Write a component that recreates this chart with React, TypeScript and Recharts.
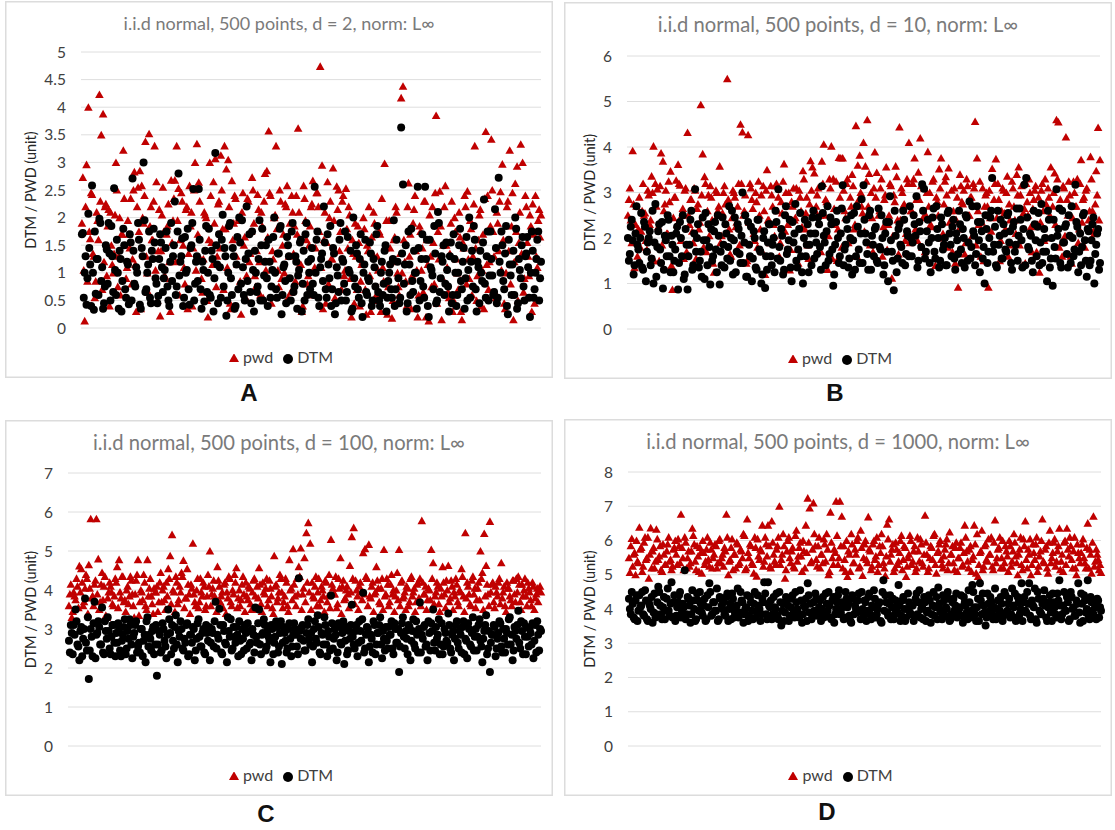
import { CartesianGrid, Legend, Scatter, ScatterChart, XAxis, YAxis } from "recharts";

// values, left to right, one entry per 2 point indexes
const pwdA = [
  2.73,0.13,2.96,4.0,1.62,2.42,1.3,0.85,1.95,4.23,3.5,3.88,2.2,0.95,2.15,2.1,1.15,1.35,3.0,0.75,2.0,1.7,3.22,1.5,1.1,
  1.7,2.35,1.25,2.83,0.3,2.55,2.85,2.58,1.9,3.38,1.0,3.52,2.2,1.6,3.3,2.65,1.4,0.22,2.05,1.75,0.9,1.85,1.2,2.68,1.95,
  2.68,3.3,2.53,1.6,2.3,1.1,2.15,0.35,2.58,2.1,1.45,3.0,3.34,2.64,1.25,0.65,2.1,2.0,0.2,3.0,1.55,2.65,3.07,1.3,2.3,
  3.13,1.8,3.3,2.88,3.05,0.45,2.67,1.9,2.35,1.15,2.0,0.25,2.45,1.65,0.95,2.3,1.35,2.73,1.9,0.75,2.42,1.2,2.1,0.55,2.8,
  2.85,3.57,2.4,1.4,2.0,3.3,1.05,2.5,0.9,1.7,2.25,2.58,1.3,0.65,2.1,1.85,2.4,3.62,1.15,0.3,2.58,1.95,0.8,1.5,2.2,
  2.67,1.1,2.45,2.2,4.74,2.95,1.6,0.45,2.65,2.0,1.25,2.9,0.55,2.57,2.5,1.75,2.3,0.95,2.53,1.45,2.05,0.2,1.35,1.9,0.7,
  1.55,0.85,1.2,1.8,0.25,1.4,0.95,1.65,2.1,0.5,1.3,1.75,0.3,1.1,2.98,1.95,0.75,1.45,0.18,1.6,2.2,1.0,0.6,4.17,4.38,
  1.2,0.4,2.63,1.7,0.95,2.15,1.4,0.2,1.85,1.05,0.65,2.3,1.6,0.13,1.3,2.2,0.8,3.85,1.75,2.48,0.15,1.5,2.58,1.1,0.55,
  1.9,0.3,2.0,1.25,0.7,1.65,0.15,1.45,2.2,2.48,0.9,1.8,1.3,3.3,0.5,1.6,2.15,1.05,0.35,3.56,2.4,1.2,3.42,1.75,0.65,
  2.1,1.4,2.47,2.97,0.45,1.0,2.3,3.22,1.85,0.15,2.62,2.93,1.55,3.33,3.0,0.9,2.2,1.3,2.05,0.3,1.7,2.4,1.1,2.15,2.05,
];
// the denser body of each cloud, sitting on the odd indexes
const pwdA2 = [
  1.9,1.05,2.2,0.85,1.75,2.45,1.35,0.55,2.1,1.6,2.3,0.7,1.2,2.25,1.85,0.4,1.5,1.0,2.05,2.5,1.3,0.6,1.7,2.35,0.9,
  1.95,1.45,0.8,2.5,1.15,2.2,1.75,0.35,2.0,2.4,1.3,0.65,1.85,1.6,2.3,1.05,0.5,2.15,1.4,2.55,0.95,1.7,2.25,0.3,1.55,
  2.35,1.2,1.95,0.6,2.45,1.5,0.8,2.2,1.35,1.85,0.4,2.5,1.05,1.7,2.3,0.9,1.25,2.05,0.5,1.6,2.4,1.15,1.9,0.75,2.25,
  1.45,2.5,0.7,1.8,1.1,2.2,0.35,1.6,2.4,1.3,1.95,0.85,2.1,1.5,0.55,2.35,1.2,1.75,2.5,0.95,1.4,2.15,0.6,1.85,2.3,
  1.05,1.65,2.45,0.45,1.25,2.05,1.8,0.75,2.3,1.5,1.0,2.2,0.55,1.9,2.4,1.35,0.85,1.7,2.1,1.15,0.4,2.35,1.6,0.95,1.85,
  2.25,0.6,1.45,2.45,1.75,1.1,0.35,2.1,1.55,0.8,2.3,1.25,1.95,0.5,2.15,1.4,0.7,2.4,1.05,1.8,2.2,0.9,1.6,0.45,1.3,
  1.85,0.4,1.15,2.0,0.7,1.5,2.2,0.3,1.35,1.9,0.6,1.05,1.7,2.35,0.85,1.45,0.25,1.95,1.2,0.5,1.65,2.1,0.75,1.35,1.0,
  1.6,0.85,2.2,1.3,0.35,1.9,2.4,1.05,0.6,1.75,1.45,2.3,0.2,1.15,2.05,0.75,1.55,2.45,0.45,1.25,1.85,0.9,2.2,1.5,0.65,
  1.35,2.3,0.5,1.75,1.0,2.1,0.3,1.55,2.4,0.8,1.25,1.95,0.6,2.25,1.45,0.95,2.05,0.4,1.7,2.35,1.15,0.7,1.85,2.5,1.3,
  0.55,1.9,2.3,1.05,1.6,0.35,2.2,1.4,0.8,2.45,1.2,1.75,0.5,2.1,1.35,0.65,2.4,1.55,0.95,1.85,2.25,0.45,1.3,1.95,1.65,
];
const dtmA = [
  1.72,1.0,0.42,2.07,1.15,2.58,0.33,0.62,1.25,1.98,0.85,0.35,0.75,1.42,1.9,0.5,1.3,2.53,0.6,1.0,1.4,0.3,1.8,0.7,1.2,
  0.43,1.55,2.71,0.8,1.1,1.9,0.42,1.45,3.0,0.65,1.0,1.75,0.45,1.25,1.55,0.8,0.58,1.7,1.1,0.9,1.45,0.75,0.4,1.9,1.3,
  2.29,0.75,2.8,1.2,1.62,0.55,1.0,1.8,0.42,1.5,2.52,0.8,1.3,2.52,0.7,1.2,0.48,1.85,1.0,0.6,1.4,0.3,3.17,1.15,1.7,
  0.55,2.05,1.45,0.22,1.0,1.9,0.6,1.3,0.4,1.65,2.0,0.8,1.1,0.5,2.2,1.35,0.65,1.75,0.3,1.0,0.75,1.95,1.5,0.5,1.2,
  0.9,1.6,0.55,1.05,2.0,0.7,1.35,1.8,0.25,1.1,0.85,1.65,1.3,0.5,1.9,0.75,1.2,0.95,1.55,0.3,1.4,1.7,0.6,1.0,1.25,
  0.8,2.56,1.6,0.55,1.1,1.35,2.2,0.7,1.7,0.9,0.4,1.45,0.25,1.1,0.65,1.9,1.25,0.8,0.5,1.65,1.0,0.3,2.0,0.75,1.35,
  0.55,1.7,0.2,1.15,0.65,0.9,1.55,0.4,1.25,0.75,1.85,0.5,1.0,0.6,1.4,0.3,0.85,1.15,0.55,1.95,0.7,1.2,0.45,3.63,2.6,
  1.15,0.3,1.75,0.6,0.85,1.4,1.0,2.56,0.5,1.25,0.75,2.56,1.6,0.2,1.1,0.95,1.85,0.45,2.1,0.65,1.3,1.5,0.8,1.05,0.3,
  1.55,0.6,1.25,0.4,1.0,1.8,0.7,1.45,0.9,0.5,2.0,1.2,0.75,1.6,0.3,1.1,1.4,0.85,2.33,0.55,1.75,0.95,1.25,0.6,2.15,
  0.45,2.72,1.0,1.5,0.7,1.85,0.25,1.15,0.6,1.4,2.0,0.35,1.25,0.9,1.65,0.5,1.35,1.1,0.2,1.75,0.55,1.0,1.6,0.5,1.2,
];
const dtmA2 = [
  1.7,0.55,1.3,0.9,1.45,0.4,1.0,1.75,1.25,0.6,1.9,1.1,0.45,1.5,0.8,1.35,1.85,0.65,1.05,1.6,0.35,1.25,0.85,1.5,0.55,
  1.15,1.7,0.5,1.4,0.75,1.0,1.6,0.35,1.3,1.95,0.7,1.15,0.55,1.4,1.8,0.9,0.45,1.25,1.55,0.65,1.05,1.75,0.5,1.2,0.85,
  1.5,0.6,1.75,0.95,1.3,0.4,1.65,1.05,0.7,1.45,1.9,0.5,1.2,0.85,1.6,0.35,1.05,1.4,0.65,1.8,0.55,1.25,0.9,1.5,0.45,
  1.1,1.6,0.75,1.3,0.5,1.85,0.9,1.45,0.35,1.15,0.7,1.55,1.95,0.6,1.25,0.85,1.7,0.45,1.05,1.4,0.65,1.25,0.5,1.8,0.95,
  1.5,0.4,1.2,0.75,1.65,1.0,0.55,1.35,1.85,0.6,1.15,0.45,1.5,0.9,1.75,0.65,1.3,0.35,1.05,1.6,0.8,0.5,1.9,1.2,0.7,
  1.45,0.6,1.0,1.75,0.4,1.25,0.85,1.55,0.55,1.15,1.85,0.7,1.35,0.45,0.95,1.6,0.5,1.2,1.75,0.65,1.05,1.4,0.35,0.9,1.5,
  0.7,1.25,0.45,1.0,1.6,0.6,0.85,1.35,0.5,1.1,1.7,0.65,0.4,1.2,0.8,1.5,0.55,1.0,0.7,1.25,0.4,1.6,0.9,0.55,1.35,
  0.8,1.5,0.45,1.15,1.8,0.65,1.0,0.35,1.45,0.85,1.7,0.55,1.25,0.4,1.6,1.05,0.7,1.35,0.5,1.9,0.9,1.2,0.6,1.55,0.75,
  1.3,0.45,1.7,1.0,0.6,1.5,0.85,1.2,0.35,1.65,1.05,0.55,1.4,1.85,0.7,1.2,0.45,1.0,1.55,0.8,1.3,0.5,1.75,0.95,0.65,
  1.45,0.55,1.2,1.75,0.85,1.35,0.4,1.6,0.95,1.15,0.6,1.8,0.45,1.05,1.5,0.75,1.3,1.65,0.55,1.0,1.4,0.7,1.25,1.75,0.9,
];
const pwdB = [
  2.85,2.4,3.92,1.35,2.7,2.2,1.8,2.6,2.5,1.95,3.05,2.3,3.36,4.02,3.2,3.08,1.5,3.87,3.69,2.75,2.1,3.25,3.47,0.87,2.9,
  3.27,3.62,3.16,2.5,1.55,3.1,4.32,2.3,2.85,1.9,3.05,2.65,2.2,4.93,3.85,3.35,1.7,2.95,3.15,2.4,1.25,3.05,2.6,3.58,2.05,
  3.0,2.75,5.5,2.2,1.6,3.05,2.9,2.35,3.2,4.5,4.33,2.6,1.45,4.27,3.2,2.85,2.1,3.0,1.8,2.5,2.95,3.15,1.2,3.5,2.4,
  3.15,2.7,2.05,3.2,2.9,1.9,2.55,3.63,3.0,2.3,1.3,2.8,3.1,2.45,1.75,3.05,2.6,3.48,2.2,2.9,1.55,3.7,3.56,3.43,2.7,
  3.1,2.5,3.69,4.06,2.85,1.31,3.3,4.02,3.3,2.3,1.51,3.77,3.76,3.76,2.6,3.2,1.9,2.9,3.4,2.2,4.47,3.6,3.82,2.7,4.1,
  3.58,4.6,3.42,3.0,1.7,3.89,3.44,2.5,3.1,1.6,2.85,3.56,2.3,3.2,1.12,2.95,3.58,2.4,4.44,3.1,2.7,1.95,3.3,4.1,2.6,
  3.2,3.76,2.85,3.45,4.2,1.8,3.1,2.5,3.9,3.0,2.25,3.3,1.4,2.8,3.52,3.76,2.1,3.25,2.95,3.54,2.6,1.7,3.1,2.4,0.92,
  3.4,2.8,3.05,1.9,3.15,2.5,2.9,3.2,4.56,3.76,2.3,1.6,3.1,2.7,3.0,0.92,2.45,3.53,2.85,3.74,3.2,1.5,2.6,3.05,2.2,
  3.36,2.75,1.85,3.1,2.4,3.4,3.56,2.95,1.4,2.65,3.2,2.5,3.0,1.7,2.85,3.15,2.3,1.25,3.05,2.6,3.3,2.0,2.9,3.56,2.7,
  3.43,4.6,4.55,2.85,1.6,3.1,4.22,2.5,2.95,1.45,3.25,2.7,3.3,2.2,3.72,2.85,1.8,3.1,2.4,3.79,2.6,2.1,3.48,4.43,3.72,
];
const pwdB2 = [
  2.5,3.1,1.9,2.75,2.3,1.6,2.9,2.15,3.2,2.55,1.75,2.95,2.4,3.0,1.5,2.7,2.25,3.15,1.85,2.6,3.05,2.1,2.8,1.4,2.45,
  2.9,2.3,3.2,1.95,2.65,3.05,1.7,2.5,2.85,2.15,3.1,1.55,2.75,2.35,2.95,1.8,3.2,2.6,2.05,2.9,1.45,2.4,3.0,2.7,1.9,
  2.55,3.15,2.1,2.85,1.65,2.45,3.0,2.25,2.7,1.85,3.2,2.5,2.95,1.5,2.35,3.1,2.65,1.95,2.8,3.25,2.2,1.7,2.6,3.05,2.4,
  1.9,2.95,2.3,3.15,2.6,1.6,2.8,3.25,2.15,2.5,3.0,1.75,2.7,2.4,3.1,1.45,2.9,2.25,3.3,2.55,1.85,2.75,3.05,2.1,2.6,
  2.95,2.35,1.7,3.2,2.5,2.8,2.05,3.1,1.55,2.65,3.25,2.2,2.9,1.8,3.05,2.45,3.3,1.95,2.7,3.15,2.3,1.6,2.85,3.0,2.55,
  2.15,3.25,2.7,1.85,2.45,3.1,2.9,1.5,2.6,3.3,2.25,2.95,1.75,2.5,3.15,2.05,2.8,3.35,1.65,2.4,3.0,2.75,2.1,3.2,1.9,
  2.6,3.3,2.2,1.95,2.85,3.15,2.45,1.7,3.0,2.7,2.3,3.25,1.55,2.9,2.5,3.1,2.0,2.75,3.35,1.8,2.35,3.05,2.6,1.45,2.9,
  2.2,3.15,2.75,1.65,3.3,2.5,2.9,2.05,3.1,1.85,2.6,3.25,2.35,1.5,2.95,2.7,3.05,2.15,1.75,3.2,2.45,2.85,1.95,3.1,2.55,
  3.0,1.6,2.4,3.25,2.7,2.1,2.95,1.85,3.15,2.55,1.45,2.8,3.3,2.25,2.65,3.05,1.7,2.9,2.35,3.2,1.95,2.75,3.1,2.5,1.55,
  3.0,2.3,3.3,1.8,2.65,3.15,2.05,2.85,3.25,1.6,2.45,3.0,2.7,1.9,3.2,2.35,2.9,3.05,1.5,2.6,3.3,2.15,2.75,2.95,2.4,
];
const dtmB = [
  1.5,2.25,1.95,1.4,2.7,1.75,2.0,1.35,2.35,1.05,1.9,2.15,1.55,1.0,2.75,1.8,2.3,1.45,0.89,2.05,1.6,2.4,1.25,1.85,1.5,
  2.1,0.87,2.35,1.6,1.1,2.2,0.87,1.85,2.6,1.4,3.07,2.0,1.35,1.7,2.45,1.1,1.95,2.3,0.98,1.5,2.15,1.75,2.5,0.98,1.4,
  1.85,2.3,1.55,2.7,2.0,1.2,2.45,1.7,2.2,1.45,3.0,1.9,1.15,2.35,1.6,1.05,2.15,1.35,2.4,1.75,1.0,2.0,0.9,1.3,2.3,
  1.6,1.85,1.25,2.35,3.07,1.5,2.05,1.3,2.7,1.75,2.4,1.05,1.9,2.75,1.35,2.2,1.6,1.0,2.4,1.85,1.25,2.1,2.45,1.55,1.9,
  2.45,1.8,3.14,2.05,1.4,2.7,1.65,2.3,0.95,1.85,2.6,1.45,2.1,3.16,1.75,2.4,1.35,2.0,1.2,2.55,1.6,2.25,1.45,2.85,3.16,
  2.1,1.65,2.5,1.3,1.85,2.2,1.5,2.65,1.75,2.0,1.4,2.35,1.05,2.92,1.7,0.85,2.05,1.55,2.3,1.8,2.6,1.4,2.15,1.6,2.0,
  1.9,2.3,2.92,1.5,2.15,3.18,3.08,1.7,2.4,1.45,2.0,2.65,1.55,2.2,1.35,2.45,1.75,2.0,1.4,2.6,1.85,2.25,1.55,2.1,1.65,
  2.3,1.45,2.0,2.5,1.5,2.8,1.8,2.15,1.4,2.7,1.95,2.35,1.55,1.0,2.2,1.7,2.45,3.32,1.85,1.4,2.6,2.05,1.55,2.3,1.75,
  2.5,1.9,1.45,2.25,1.7,2.65,2.05,2.4,1.35,3.17,3.32,1.8,2.1,1.5,2.6,1.95,2.25,1.4,2.75,1.7,2.0,1.05,2.4,1.55,0.95,
  1.8,3.07,2.2,1.45,2.6,1.9,2.3,1.35,2.05,2.7,1.6,3.17,2.25,1.7,1.4,2.5,1.95,1.15,2.15,1.5,2.3,1.0,1.85,2.2,1.45,
];
const dtmB2 = [
  2.0,1.65,2.4,1.2,2.1,1.85,1.45,2.55,1.3,2.25,1.7,2.0,1.4,2.6,1.9,1.15,2.15,1.75,2.35,1.3,1.95,2.5,1.6,2.05,1.25,
  1.75,2.25,1.45,2.0,2.5,1.2,1.85,1.6,2.4,1.3,2.1,1.7,2.3,1.5,1.15,1.95,2.55,1.4,1.8,2.2,1.6,2.35,1.25,2.05,1.7,
  2.45,1.35,2.1,1.8,1.5,2.6,1.95,1.25,2.3,1.65,2.05,1.45,2.5,1.15,1.85,2.25,1.55,2.0,1.3,2.4,1.7,1.2,2.15,1.6,1.9,
  2.3,1.4,2.0,2.6,1.55,1.8,2.2,1.2,2.5,1.65,1.95,1.35,2.35,2.1,1.5,1.75,2.55,1.25,2.0,1.6,2.3,1.85,1.4,2.6,2.1,
  1.65,2.3,1.3,2.55,1.9,2.15,1.5,2.45,1.75,1.2,2.35,2.0,1.6,2.65,1.4,1.85,2.2,1.55,2.5,1.95,1.3,2.7,1.75,2.1,1.45,
  2.4,1.9,1.3,2.6,2.05,1.6,2.25,1.45,1.8,2.5,1.2,2.1,1.7,2.35,1.95,1.5,2.6,1.25,2.2,1.85,1.45,2.4,1.65,2.05,2.7,
  1.6,2.5,2.05,1.35,2.35,1.8,2.6,1.55,2.15,1.9,1.25,2.45,1.7,2.7,2.0,1.5,2.3,1.85,1.4,2.55,2.1,1.6,2.4,1.3,1.95,
  2.6,1.75,2.2,1.35,2.45,1.9,1.55,2.7,2.05,1.65,2.35,1.25,2.15,1.8,2.5,1.45,2.0,2.6,1.7,2.25,1.35,1.85,2.4,1.55,2.1,
  1.7,2.55,2.15,1.3,2.35,1.85,1.5,2.65,1.95,2.2,1.4,2.45,1.75,2.05,1.25,2.3,1.6,2.55,1.9,1.45,2.2,1.7,2.6,1.35,2.0,
  2.4,1.55,2.05,2.65,1.35,1.9,2.25,1.65,2.5,1.45,2.0,1.75,2.35,1.25,2.1,1.8,2.55,1.5,2.2,1.4,1.95,2.45,1.65,2.1,1.3,
];
const pwdC = [
  3.9,3.3,3.95,3.75,4.1,4.62,4.55,3.6,4.05,4.3,4.65,5.83,3.85,4.15,5.83,4.8,3.7,4.45,4.1,3.35,3.8,4.2,3.95,3.6,4.3,
  4.6,4.78,3.8,4.35,3.75,4.0,3.65,4.35,3.9,3.3,4.25,4.78,3.7,3.95,4.4,3.6,4.78,4.05,3.85,3.4,3.95,4.1,3.7,4.45,4.0,
  3.75,4.2,4.55,4.88,5.42,3.95,4.35,3.65,4.1,4.45,4.76,3.8,4.55,3.9,4.15,5.2,3.7,4.0,3.55,4.3,3.85,4.1,3.6,4.4,5.0,
  3.9,4.25,3.7,4.6,4.1,3.85,3.55,4.2,3.95,4.35,3.7,4.0,4.4,4.57,3.8,3.6,4.15,3.9,4.2,3.75,4.05,3.5,4.25,3.85,4.1,
  4.57,3.65,4.2,3.9,4.3,3.75,4.05,3.55,4.88,4.15,3.8,4.4,3.95,3.7,4.3,3.6,4.78,4.05,5.06,3.85,4.3,4.6,5.08,3.9,4.83,
  5.47,5.73,5.2,4.2,3.8,4.35,3.95,3.6,4.1,3.85,4.25,3.7,4.4,5.3,4.05,3.9,3.55,4.3,4.83,4.1,3.75,4.0,3.9,4.63,5.37,
  5.6,4.25,3.85,4.1,3.95,4.96,5.06,4.3,5.17,3.8,4.2,3.9,4.6,4.05,3.65,4.3,5.04,3.9,4.15,3.7,4.4,4.0,3.85,4.45,5.04,
  4.2,3.8,3.95,4.1,3.6,4.3,3.85,4.05,3.7,4.2,4.3,5.78,3.9,4.1,3.75,4.0,5.04,4.7,3.85,4.2,3.65,4.05,4.6,3.9,4.25,
  4.63,3.8,4.1,3.95,4.3,3.7,4.0,4.55,3.85,5.47,4.2,3.9,3.6,4.35,4.05,3.75,4.2,5.0,4.45,5.45,4.63,3.9,5.76,4.15,3.7,
  4.1,3.85,4.3,4.7,3.95,3.6,4.2,4.05,3.75,4.25,3.9,4.3,4.35,3.7,4.15,4.0,3.85,4.2,3.95,3.6,4.1,3.8,4.05,4.0,3.95,
];
const pwdC2 = [
  3.6,4.15,3.45,3.85,4.3,3.55,3.95,4.2,3.7,4.4,3.4,4.05,3.8,3.6,4.25,3.9,3.5,4.15,3.75,4.35,3.3,3.95,4.1,3.65,3.85,
  4.2,3.55,3.95,4.35,3.7,3.45,4.1,3.85,4.25,3.6,3.9,4.4,3.35,4.0,3.75,4.2,3.5,3.85,4.3,3.65,4.05,3.95,3.45,4.2,3.7,
  4.1,3.5,3.85,4.3,3.65,4.0,3.45,4.2,3.75,3.95,4.35,3.55,3.8,4.15,3.4,4.05,3.9,3.6,4.3,3.7,3.95,4.2,3.5,3.85,4.1,
  3.6,4.05,3.85,3.45,4.25,3.7,3.95,4.15,3.4,3.8,4.3,3.6,3.9,4.2,3.55,4.0,3.75,4.35,3.45,3.85,4.1,3.65,3.95,4.3,3.5,
  3.8,4.15,3.45,3.95,4.05,3.6,4.25,3.85,3.4,4.1,3.7,3.95,4.3,3.55,3.85,4.2,3.45,4.0,3.75,4.15,3.6,3.9,4.35,3.5,4.05,
  3.7,4.2,3.95,3.5,3.85,4.1,3.6,4.3,3.75,4.0,3.45,4.2,3.85,3.55,4.15,3.9,4.35,3.65,4.05,3.4,4.25,3.8,4.1,3.55,3.95,
  4.3,3.65,4.0,3.5,4.2,3.75,3.9,4.35,3.6,3.85,4.1,3.45,3.95,4.25,3.7,4.05,3.5,3.85,4.3,3.6,4.15,3.9,3.45,4.0,3.75,
  3.6,4.25,3.85,3.5,4.05,3.7,4.35,3.95,3.45,4.15,3.8,3.6,4.2,3.9,3.5,4.05,3.75,4.3,3.65,3.95,4.1,3.45,3.85,4.2,3.55,
  4.0,3.7,4.25,3.5,3.85,4.15,3.6,3.95,4.35,3.45,3.8,4.1,3.65,4.25,3.9,3.55,4.05,3.75,4.3,3.5,3.85,4.15,3.6,3.95,4.2,
  3.55,3.95,4.2,3.65,3.8,4.1,3.45,4.05,3.85,3.6,4.25,3.7,3.95,4.15,3.5,3.85,4.3,3.6,4.05,3.75,4.2,3.5,3.9,3.7,4.1,
];
const dtmC = [
  2.4,2.9,3.1,3.5,2.6,2.2,3.05,2.75,3.78,2.45,1.72,3.0,2.3,3.7,2.85,3.2,2.6,3.55,2.35,2.95,3.3,2.5,2.8,3.1,2.3,
  2.65,3.0,2.3,2.85,3.25,2.5,2.75,3.1,2.25,2.9,3.2,2.55,2.4,3.0,2.7,2.15,3.3,2.85,2.45,3.05,2.6,1.8,2.95,2.4,3.15,
  2.7,2.25,3.5,2.9,3.1,2.5,3.35,2.15,2.8,3.0,2.45,2.65,3.15,2.35,2.85,3.05,2.2,2.75,3.25,2.55,2.9,2.4,3.1,2.7,2.2,
  3.0,2.55,3.7,2.85,3.52,2.4,3.1,2.65,2.15,2.95,3.25,2.5,2.8,3.05,2.3,2.7,3.0,2.45,2.9,3.15,2.6,2.2,2.85,3.55,2.65,
  3.5,2.35,2.9,3.1,2.55,2.8,2.15,3.0,2.65,3.2,2.4,2.9,2.1,3.05,2.7,2.5,3.15,2.3,2.85,3.0,2.55,4.3,2.75,3.1,2.45,
  2.9,3.25,2.6,2.15,3.0,2.75,3.35,2.4,2.9,2.6,3.1,2.3,2.8,3.86,2.5,3.0,2.2,3.15,2.65,2.9,2.1,3.05,2.45,2.75,3.62,
  2.6,2.95,2.3,3.2,2.7,3.93,2.5,3.05,2.15,2.85,2.4,3.1,2.6,2.9,3.3,2.25,2.75,3.05,2.5,2.85,3.2,2.35,3.0,2.65,1.9,
  2.9,3.3,2.5,2.75,3.1,2.2,2.95,2.6,3.2,2.4,3.68,2.85,3.05,2.55,2.2,2.9,3.15,3.5,2.45,2.75,3.25,2.6,2.35,3.0,2.7,
  3.4,2.5,2.85,2.2,3.1,2.65,2.95,2.4,3.2,2.75,2.25,3.0,2.55,3.3,2.8,2.45,3.1,2.7,2.15,2.95,3.35,2.5,1.9,2.85,3.1,
  2.3,2.75,3.2,2.55,3.0,2.4,2.9,3.25,2.6,2.2,3.05,2.75,3.47,2.5,2.95,3.15,2.35,2.8,3.0,2.6,2.25,3.1,3.2,2.45,2.95,
];
const dtmC2 = [
  2.7,3.1,2.35,2.85,3.2,2.55,2.95,2.3,3.0,2.65,3.3,2.45,2.8,3.15,2.25,2.9,3.05,2.6,2.4,3.2,2.75,2.95,2.35,3.1,2.65,
  2.9,3.15,2.45,2.7,3.05,2.35,2.95,3.25,2.6,2.8,3.1,2.4,2.65,3.0,2.3,2.85,3.2,2.55,2.75,2.95,2.35,3.1,2.6,2.85,2.45,
  3.0,2.55,2.85,3.25,2.35,2.7,3.05,2.6,2.95,3.2,2.5,2.75,3.1,2.3,2.85,2.65,3.0,2.45,3.15,2.8,2.55,3.0,2.35,2.9,3.05,
  2.65,2.9,3.2,2.5,2.75,3.1,2.35,2.95,2.6,3.3,2.8,2.45,3.05,2.65,2.85,3.2,2.35,2.75,3.1,2.5,2.95,2.65,3.0,2.4,2.8,
  3.15,2.6,2.85,3.25,2.45,2.95,2.7,3.1,2.35,2.8,3.05,2.55,3.2,2.65,2.9,2.4,3.0,2.75,2.55,3.15,2.85,2.35,2.95,3.05,2.7,
  2.45,3.1,2.75,2.9,2.55,3.2,2.65,3.05,2.35,2.85,3.3,2.6,2.95,2.45,3.15,2.75,2.85,2.4,3.05,2.6,3.2,2.7,2.35,2.95,3.1,
  2.8,2.5,3.1,2.65,2.95,3.25,2.4,2.85,3.0,2.55,2.75,3.2,2.35,2.9,3.1,2.6,2.95,2.45,2.7,3.05,2.85,2.5,3.15,2.65,3.0,
  2.55,3.15,2.8,2.95,2.35,3.05,2.7,3.25,2.5,2.85,3.0,2.4,2.75,3.1,2.6,3.2,2.45,2.95,2.65,3.05,2.85,2.35,3.15,2.55,2.9,
  2.65,3.1,2.4,2.95,2.75,3.2,2.5,2.85,3.05,2.35,2.7,3.15,2.6,2.9,2.45,3.0,2.8,3.25,2.55,2.75,3.1,2.35,2.95,2.65,2.85,
  3.05,2.5,2.9,3.15,2.4,2.75,3.0,2.6,3.3,2.85,2.45,2.95,3.1,2.65,3.2,2.35,2.8,3.05,2.55,2.9,3.15,2.7,2.4,2.85,3.0,
];
const pwdD = [
  5.07,6.06,5.6,5.0,5.4,6.39,5.8,5.25,6.1,5.5,4.9,6.37,5.7,5.2,6.33,5.45,5.85,5.1,5.6,5.3,5.9,5.4,5.15,5.75,6.0,
  5.3,5.85,6.77,5.5,6.1,5.2,5.7,5.35,6.36,5.9,5.15,5.55,5.8,5.05,5.65,5.4,6.1,5.25,5.75,5.5,5.9,5.2,6.0,5.35,5.6,
  5.8,6.77,5.0,5.45,6.05,5.6,5.2,5.9,5.35,5.7,6.2,5.15,6.63,5.5,5.85,5.3,6.1,4.96,5.55,5.75,6.45,5.4,5.9,6.45,5.25,
  6.57,5.6,5.3,5.85,7.0,5.45,6.2,4.9,5.7,6.1,5.35,5.8,5.2,6.3,5.55,5.95,5.1,5.7,6.45,7.24,6.95,5.4,7.1,5.85,5.25,
  6.1,5.6,5.35,5.9,6.2,5.0,6.83,5.5,5.75,7.15,5.3,7.15,6.71,5.85,5.1,4.95,5.6,6.2,5.35,5.75,6.0,5.2,6.3,4.98,5.9,
  5.45,6.69,5.7,5.25,6.0,5.55,5.1,5.85,6.2,5.35,4.98,6.48,6.63,5.6,5.9,5.2,5.75,5.4,6.0,5.15,5.85,4.95,5.5,6.15,5.3,
  5.7,5.1,6.1,5.4,5.9,5.25,6.74,5.6,5.2,5.85,5.45,6.2,5.05,5.7,6.0,5.3,5.55,5.9,5.15,6.25,5.6,5.35,5.8,5.1,5.5,
  5.95,5.3,6.45,5.7,5.2,5.85,5.45,6.45,5.05,4.95,5.65,6.3,5.25,5.9,5.4,5.6,6.1,5.15,6.6,5.5,5.8,5.2,6.0,5.35,5.7,
  5.1,5.85,5.4,6.2,5.55,5.0,5.75,5.3,6.05,6.57,5.2,5.6,5.0,5.9,5.45,6.1,5.25,5.7,6.63,5.35,5.85,5.05,6.3,5.5,5.95,
  5.25,5.7,6.36,5.4,5.1,6.0,6.36,5.55,5.85,5.2,6.1,5.0,5.65,5.35,5.9,5.5,5.2,6.51,5.75,5.05,6.71,5.4,5.6,5.15,5.07,
];
const pwdD2 = [
  5.5,5.85,5.25,5.65,6.0,5.35,5.75,5.1,5.95,5.45,6.1,5.6,5.2,5.8,5.4,6.05,5.55,5.15,5.9,5.3,5.7,6.1,5.45,5.25,5.8,
  5.6,6.05,5.35,5.8,5.15,5.95,5.5,5.25,5.7,6.15,5.4,5.85,5.1,5.65,6.0,5.3,5.75,5.45,5.95,5.2,5.6,5.85,5.35,6.05,5.5,
  5.25,5.7,6.1,5.4,5.8,5.15,5.6,5.95,5.3,5.75,5.5,6.15,5.2,5.65,5.9,5.35,5.05,5.8,6.05,5.45,5.7,5.25,6.1,5.55,5.85,
  5.2,5.95,5.4,5.75,6.1,5.3,5.6,5.85,5.15,6.0,5.5,5.7,5.25,6.15,5.4,5.8,5.55,6.0,5.2,5.65,5.95,5.35,5.75,6.2,5.45,
  5.85,5.2,5.6,6.05,5.4,5.75,5.1,5.95,5.3,5.65,6.15,5.5,5.85,5.2,5.45,6.0,5.7,5.1,5.9,5.35,5.6,6.1,5.25,5.8,5.5,
  6.0,5.35,5.75,5.15,5.9,5.45,6.1,5.3,5.65,5.85,5.2,5.55,6.05,5.4,5.75,5.1,5.95,5.3,5.65,6.15,5.45,5.8,5.25,5.6,6.0,
  5.4,5.85,5.2,5.7,6.05,5.35,5.6,5.95,5.1,5.5,5.8,6.15,5.3,5.65,5.9,5.45,5.2,5.75,6.05,5.35,5.6,5.85,5.15,5.95,5.5,
  5.8,5.25,5.65,6.1,5.4,5.75,5.1,5.55,5.9,6.2,5.3,5.7,5.15,5.85,5.45,6.05,5.6,5.25,5.95,5.35,5.75,6.1,5.5,5.2,5.85,
  5.55,6.0,5.25,5.7,5.95,5.35,5.6,6.1,5.15,5.85,5.45,5.75,6.05,5.3,5.65,5.9,5.1,5.55,6.0,5.4,5.75,5.2,5.95,5.35,5.65,
  6.05,5.4,5.85,5.15,5.6,5.95,5.3,5.75,6.1,5.45,5.7,5.2,5.9,5.5,5.65,6.05,5.35,5.8,5.2,5.6,5.95,5.25,5.75,5.45,5.3,
];
const dtmD = [
  4.0,4.5,3.75,4.25,3.65,4.4,4.1,3.85,4.55,3.7,4.2,4.0,3.6,4.45,3.85,4.65,4.1,3.7,4.35,3.95,4.6,3.8,4.78,4.2,3.65,
  4.05,4.4,3.75,4.15,5.13,3.85,4.3,3.6,4.55,4.0,3.7,4.25,4.5,3.9,4.1,3.65,4.4,4.75,3.8,4.2,3.95,4.6,3.7,4.3,4.0,
  3.85,4.35,3.65,4.15,4.45,3.75,4.05,4.6,3.9,4.25,3.6,4.0,4.4,3.8,4.2,3.7,4.5,3.95,4.1,3.65,4.3,4.78,3.85,4.78,4.05,
  3.7,4.35,4.0,3.8,4.5,3.52,4.15,3.9,4.3,3.65,4.05,4.4,3.75,4.2,3.85,4.55,3.6,4.1,4.3,4.75,3.9,3.7,4.2,4.45,3.8,
  4.05,3.65,4.35,3.9,4.15,4.5,3.75,4.25,3.6,4.0,4.4,3.85,4.2,3.7,4.5,4.05,3.8,3.6,4.3,4.1,3.9,4.45,3.7,4.0,4.25,
  3.65,4.35,3.85,4.1,4.55,3.75,4.0,4.2,3.6,4.84,4.4,3.9,4.15,3.7,4.3,3.85,4.05,4.7,3.65,4.25,4.0,3.75,4.45,3.9,4.1,
  3.65,4.3,3.85,4.55,4.0,3.7,4.2,3.9,4.4,3.6,4.1,3.8,4.35,4.63,3.95,3.7,4.25,4.05,4.5,3.65,3.85,4.3,4.1,3.75,4.0,
  4.4,3.6,4.2,3.9,4.55,3.75,4.7,4.05,3.65,4.3,4.75,3.85,4.1,3.52,4.45,3.95,4.2,3.7,4.6,4.0,3.8,4.35,3.65,4.5,3.9,
  4.15,3.75,4.6,4.05,3.65,4.35,3.85,4.75,4.2,3.95,4.5,4.75,3.7,4.1,4.6,3.6,4.3,3.9,4.15,4.55,3.75,4.05,4.4,3.65,4.2,
  3.85,4.45,4.84,3.7,4.1,3.95,4.35,3.65,4.5,4.0,3.8,4.25,4.75,3.6,4.15,4.4,3.9,4.84,3.7,4.2,3.85,4.05,4.3,3.75,3.95,
];
const dtmD2 = [
  4.3,3.85,4.15,3.7,4.4,3.95,4.05,4.5,3.8,4.25,3.65,4.1,4.35,3.9,3.75,4.2,4.5,3.85,4.05,3.7,4.3,3.95,4.15,3.75,4.4,
  3.8,4.2,4.5,3.9,4.05,3.7,4.35,4.1,3.85,4.25,3.65,4.45,3.95,4.15,3.8,4.3,3.7,4.05,4.5,3.85,4.2,3.95,3.65,4.35,4.1,
  4.2,3.8,4.45,4.0,3.7,4.3,3.9,4.1,3.75,4.5,4.2,3.85,4.05,3.65,4.35,3.95,4.15,3.75,4.4,4.0,3.85,4.2,4.45,3.7,4.1,
  4.25,3.85,4.05,4.45,3.7,4.2,3.95,3.65,4.35,4.1,3.8,4.3,3.9,4.5,4.0,3.75,4.25,3.85,4.05,3.65,4.4,4.15,3.8,3.95,4.3,
  3.85,4.25,4.0,3.75,4.45,3.95,4.1,3.7,4.35,3.85,4.2,4.55,3.9,4.05,3.75,4.3,4.15,3.65,4.4,3.85,4.0,4.25,3.95,4.5,3.8,
  4.2,3.95,4.45,3.7,4.05,4.3,3.85,4.15,3.65,4.5,3.95,4.2,3.8,4.4,4.05,3.7,4.25,3.9,4.1,3.8,4.35,3.65,4.0,4.2,3.85,
  4.1,3.8,4.45,4.2,3.75,4.05,4.35,3.65,3.95,4.25,3.85,4.5,4.05,3.7,4.15,3.9,4.4,3.8,4.0,4.3,3.7,4.2,3.95,4.45,3.85,
  4.05,3.8,4.35,4.1,3.7,4.2,3.95,4.5,3.85,4.05,3.65,4.25,4.45,3.9,3.75,4.15,4.35,3.85,4.05,3.7,4.25,3.95,4.15,3.8,4.4,
  3.95,4.3,3.85,4.1,4.45,3.75,4.2,4.0,3.65,4.35,3.9,4.15,3.8,4.25,4.05,3.7,4.5,3.95,3.85,4.3,4.1,3.65,4.2,3.9,4.45,
  4.05,3.75,4.25,4.1,3.85,4.5,3.95,4.2,3.7,4.35,4.05,3.8,4.15,3.9,4.45,3.65,4.25,4.0,3.8,4.35,3.95,4.15,3.7,4.25,4.05,
];

const ticksA = [0, 0.5, 1, 1.5, 2, 2.5, 3, 3.5, 4, 4.5, 5];
const ticksB = [0, 1, 2, 3, 4, 5, 6];
const ticksC = [0, 1, 2, 3, 4, 5, 6, 7];
const ticksD = [0, 1, 2, 3, 4, 5, 6, 7, 8];

const RED = "#c00000";
const FONT = "Lato, 'Open Sans', sans-serif";

const toPoints = (main: number[], extra: number[]) => [
  ...extra.map((y, i) => ({ x: i * 2 + 1, y })),
  ...main.map((y, i) => ({ x: (i + 1) * 2, y })),
];

const TriangleDot = ({ cx, cy }: any) => (
  <polygon
    points={`${cx - 4.3},${cy + 3.6} ${cx + 4.3},${cy + 3.6} ${cx},${cy - 4}`}
    fill={RED}
  />
);

const CircleDot = ({ cx, cy }: any) => <circle cx={cx} cy={cy} r={4} fill="#000" />;

const panels = [
  { letter: "A", d: "2", pwd: pwdA, pwd2: pwdA2, dtm: dtmA, dtm2: dtmA2, ticks: ticksA, box: [5, 1, 553, 378], plot: [81, 52, 541, 327], titleSize: 18, titleY: 11, letterAt: [249, 394] },
  { letter: "B", d: "10", pwd: pwdB, pwd2: pwdB2, dtm: dtmB, dtm2: dtmB2, ticks: ticksB, box: [564, 2, 1112, 379], plot: [627, 56, 1100, 328], titleSize: 20.2, titleY: 10, letterAt: [835, 394] },
  { letter: "C", d: "100", pwd: pwdC, pwd2: pwdC2, dtm: dtmC, dtm2: dtmC2, ticks: ticksC, box: [5, 420, 553, 796], plot: [68, 473, 541, 745], titleSize: 20.2, titleY: 10, letterAt: [266, 815] },
  { letter: "D", d: "1000", pwd: pwdD, pwd2: pwdD2, dtm: dtmD, dtm2: dtmD2, ticks: ticksD, box: [564, 419, 1112, 796], plot: [628, 472, 1101, 745], titleSize: 20.2, titleY: 10, letterAt: [827, 813] },
];

const LEGEND_H = 20;

function Panel({ p }: { p: (typeof panels)[number] }) {
  const [bl, bt, br, bb] = p.box;
  const [pl, pt, pr, pb] = p.plot;
  const w = br - bl;
  const h = bb - bt;
  return (
    <>
      <div
        style={{
          position: "absolute",
          left: bl,
          top: bt,
          width: w,
          height: h,
          boxShadow: "inset 0 0 0 1.5px #dcdcdc",
        }}
      >
        <div
          style={{
            position: "absolute",
            left: 0,
            right: 0,
            top: p.titleY,
            textAlign: "center",
            fontFamily: FONT,
            fontSize: p.titleSize,
            color: "#7a7a7a",
            whiteSpace: "nowrap",
          }}
        >
          {`i.i.d normal, 500 points, d = ${p.d}, norm: L∞`}
        </div>
        <ScatterChart
          width={w}
          height={h}
          margin={{ top: pt - bt, right: br - pr, bottom: bb - pb - LEGEND_H, left: 0 }}
          style={{ fontFamily: FONT }}
        >
          <CartesianGrid vertical={false} stroke="#dedede" />
          <XAxis type="number" dataKey="x" domain={[0, 500]} hide />
          <YAxis
            type="number"
            dataKey="y"
            width={pl - bl}
            domain={[p.ticks[0], p.ticks[p.ticks.length - 1]]}
            ticks={p.ticks}
            interval={0}
            axisLine={false}
            tickLine={false}
            tickMargin={9}
            tick={{ fontSize: 15.5, fill: "#404040" }}
            label={{
              value: "DTM / PWD (unit)",
              angle: -90,
              position: "insideLeft",
              offset: 26,
              style: { textAnchor: "middle", fontSize: 14.5, fill: "#262626" },
            }}
          />
          <Legend
            verticalAlign="bottom"
            align="center"
            iconSize={10}
            itemSorter={null}
            wrapperStyle={{ bottom: 12, left: 13 }}
            formatter={(value) => <span style={{ color: "#404040", fontSize: 16 }}>{value}</span>}
          />
          <Scatter
            name="pwd"
            data={toPoints(p.pwd, p.pwd2)}
            fill={RED}
            legendType="triangle"
            shape={TriangleDot}
            isAnimationActive={false}
          />
          <Scatter
            name="DTM"
            data={toPoints(p.dtm, p.dtm2)}
            fill="#000"
            legendType="circle"
            shape={CircleDot}
            isAnimationActive={false}
          />
        </ScatterChart>
      </div>
      <div
        style={{
          position: "absolute",
          left: p.letterAt[0] - 20,
          top: p.letterAt[1] - 15,
          width: 40,
          textAlign: "center",
          fontFamily: "'Liberation Sans', Arial, sans-serif",
          fontWeight: "bold",
          fontSize: 24,
          color: "#111",
        }}
      >
        {p.letter}
      </div>
    </>
  );
}

export default function App() {
  return (
    <div style={{ position: "absolute", left: 0, top: 0, width: 1115, height: 830, background: "#fff" }}>
      {panels.map((p) => (
        <Panel key={p.letter} p={p} />
      ))}
    </div>
  );
}
